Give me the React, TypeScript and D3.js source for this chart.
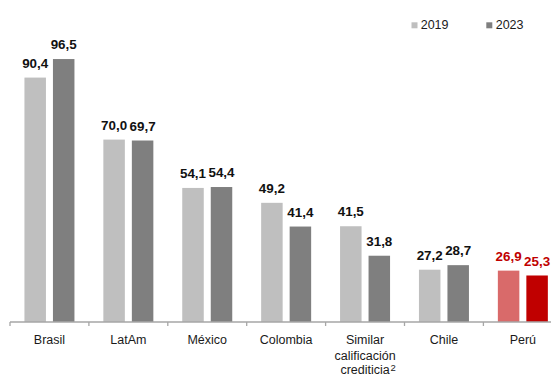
import React from "react";
import * as d3 from "d3";

const categories = ["Brasil", "LatAm", "México", "Colombia", "Similar", "Chile", "Perú"];
const series = ["2019", "2023"];
const values2019 = [90.4, 70.0, 54.1, 49.2, 41.5, 27.2, 26.9];
const values2023 = [96.5, 69.7, 54.4, 41.4, 31.8, 28.7, 25.3];
const highlightCategory = "Perú";

const W = 551;
const H = 376;
const FONT = "'Liberation Sans', Arial, Helvetica, sans-serif";

const fmt = (v: number) => v.toFixed(1).replace(".", ",");

export default function App() {
  const x0 = d3.scaleBand<string>().domain(categories).range([10, 10 + 7 * 78.9]).padding(0);
  const bw = x0.bandwidth();
  const x1 = d3
    .scaleBand<string>()
    .domain(series)
    .range([bw / 2 - 25, bw / 2 + 25])
    .paddingInner(0.2456)
    .paddingOuter(0);
  const y = d3.scaleLinear().domain([10, 100]).range([322, 48.4]);
  const base = y(10);

  const colorsNormal = ["#bfbfbf", "#7f7f7f"];
  const colorsHighlight = ["#d96a6a", "#c00000"];

  const rows = categories.map((c, i) => ({ c, vals: [values2019[i], values2023[i]] }));
  const tickXs = categories.map((c) => x0(c)!).concat([x0(categories[categories.length - 1])! + bw]);

  return (
    <div style={{ position: "absolute", left: 0, top: 0 }}>
      <svg width={W} height={H} style={{ display: "block", background: "#fff" }} fontFamily={FONT}>
        {rows.map((r) => {
          const hl = r.c === highlightCategory;
          const cols = hl ? colorsHighlight : colorsNormal;
          return (
            <g key={r.c} transform={`translate(${x0(r.c)},0)`}>
              {r.vals.map((v, j) => {
                const xx = x1(series[j])!;
                const yy = y(v);
                return (
                  <g key={j}>
                    <rect x={xx} y={yy} width={x1.bandwidth()} height={base - yy} fill={cols[j]} />
                    <text
                      x={xx + x1.bandwidth() / 2}
                      y={yy - 9.8}
                      textAnchor="middle"
                      fontSize={13.4}
                      fontWeight="bold"
                      fill={hl ? "#c00000" : "#111"}
                    >
                      {fmt(v)}
                    </text>
                  </g>
                );
              })}
            </g>
          );
        })}
        <line x1={10} x2={tickXs[tickXs.length - 1]} y1={322} y2={322} stroke="#a6a6a6" strokeWidth={1.3} />
        {tickXs.map((t, i) => (
          <line key={i} x1={t} x2={t} y1={322} y2={326} stroke="#a6a6a6" strokeWidth={1.3} />
        ))}
        {categories.map((c) => {
          const cx = x0(c)! + bw / 2;
          if (c === "Similar") {
            return (
              <g key={c} fontSize={12.5} fill="#1a1a1a">
                <text x={cx} y={344.3} textAnchor="middle">Similar</text>
                <text x={cx} y={359.8} textAnchor="middle">calificación</text>
                <text x={cx} y={373.8} textAnchor="middle">crediticia</text>
                <text x={cx + 25.5} y={370.6} fontSize={9.5}>2</text>
              </g>
            );
          }
          return (
            <text key={c} x={cx} y={344.3} textAnchor="middle" fontSize={12.5} fill="#1a1a1a">
              {c}
            </text>
          );
        })}
        <g fontSize={12.5} fill="#1a1a1a">
          <rect x={411.5} y={22.3} width={6} height={6} fill={colorsNormal[0]} />
          <text x={420.7} y={29}>{series[0]}</text>
          <rect x={486.3} y={22.3} width={6} height={6} fill={colorsNormal[1]} />
          <text x={495.7} y={29}>{series[1]}</text>
        </g>
      </svg>
    </div>
  );
}
